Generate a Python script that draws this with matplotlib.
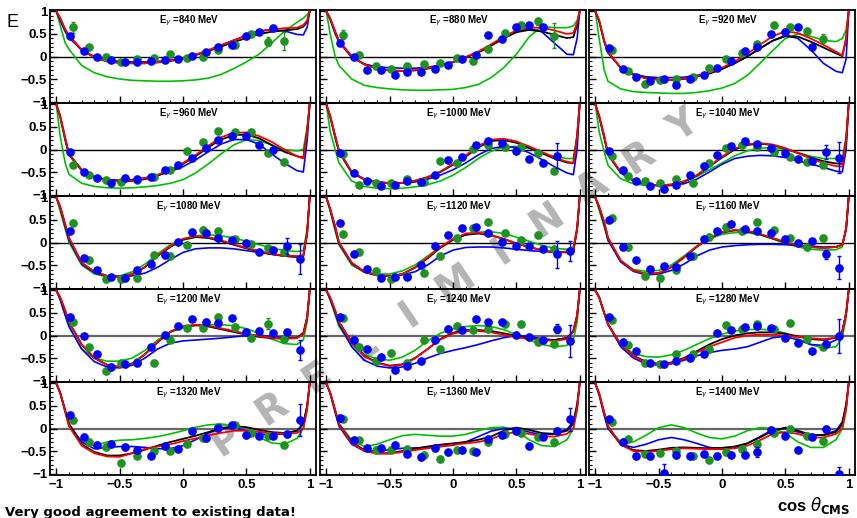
import matplotlib
matplotlib.use("Agg")
import matplotlib.pyplot as plt
from matplotlib.ticker import MultipleLocator
import numpy as np

W, H = 857, 518

energies = [840, 880, 920, 960, 1000, 1040, 1080, 1120, 1160, 1200, 1240, 1280, 1320, 1360, 1400]

# bin centres of the two data sets
blue_x = [-0.89, -0.78, -0.68, -0.57, -0.46, -0.36, -0.25, -0.14, -0.04,
          0.07, 0.18, 0.28, 0.39, 0.5, 0.6, 0.71, 0.82, 0.92]
green_x = [-0.87, -0.74, -0.61, -0.49, -0.36, -0.23, -0.1, 0.03, 0.16,
           0.28, 0.41, 0.54, 0.67, 0.8]
curve_x = [-1, -0.97, -0.93, -0.9, -0.8, -0.7, -0.6, -0.5, -0.4, -0.3, -0.2, -0.1, 0,
           0.1, 0.2, 0.3, 0.4, 0.5, 0.6, 0.7, 0.8, 0.9, 0.95, 0.98, 1]

blue_E = [
    [0.45, 0.13, -0.02, -0.08, -0.13, -0.13, -0.11, -0.08, -0.06, 0.01, 0.09, 0.22, 0.25, 0.45, 0.54, 0.63, None, None],
    [0.31, 0.0, -0.30, -0.31, -0.40, -0.34, -0.34, -0.27, -0.19, -0.06, 0.03, 0.48, 0.39, 0.65, 0.71, 0.66, None, None],
    [0.19, -0.27, -0.45, -0.54, -0.51, -0.64, -0.51, -0.40, -0.25, -0.10, 0.13, 0.22, 0.50, 0.55, 0.65, 0.22, None, None],
    [-0.06, -0.49, -0.63, -0.75, -0.63, -0.66, -0.60, -0.46, -0.34, -0.19, 0.04, 0.20, 0.29, 0.30, 0.09, -0.01, None, None],
    [-0.08, -0.52, -0.71, -0.80, -0.79, -0.71, -0.72, -0.56, -0.24, -0.16, 0.10, 0.19, 0.15, -0.04, -0.20, -0.30, -0.14, None],
    [-0.04, -0.46, -0.70, -0.82, -0.87, -0.79, -0.56, -0.37, -0.13, 0.08, 0.19, 0.13, 0.03, -0.08, -0.21, -0.25, -0.06, -0.18],
    [0.26, -0.35, -0.6, -0.77, -0.79, -0.6, -0.47, -0.27, 0.02, 0.23, 0.2, 0.1, 0.06, 0.0, -0.2, -0.16, -0.08, -0.36],
    [0.43, -0.26, -0.59, -0.78, -0.77, -0.77, -0.49, -0.07, 0.16, 0.33, 0.34, 0.22, 0.02, -0.08, -0.07, -0.15, -0.26, -0.18],
    [0.5, -0.11, -0.39, -0.59, -0.53, -0.55, -0.3, 0.07, 0.25, 0.4, 0.31, 0.25, 0.2, 0.08, -0.01, 0.03, -0.26, -0.56],
    [0.4, -0.01, -0.41, -0.69, -0.64, -0.6, -0.26, 0.02, 0.22, 0.37, 0.31, 0.27, 0.39, 0.08, 0.11, 0.06, 0.07, -0.33],
    [0.4, -0.09, -0.3, -0.48, -0.76, -0.67, -0.56, -0.09, 0.15, 0.13, 0.36, 0.3, 0.3, 0.02, -0.03, -0.1, 0.15, -0.12],
    [0.4, -0.15, -0.34, -0.6, -0.64, -0.57, -0.49, -0.41, 0.05, 0.12, 0.18, 0.2, 0.16, -0.05, -0.16, -0.34, -0.18, -0.01],
    [0.31, -0.18, -0.36, -0.34, -0.41, -0.47, -0.6, -0.39, -0.45, -0.05, -0.21, 0.01, 0.07, -0.15, -0.16, -0.16, -0.13, 0.19],
    [0.24, -0.25, -0.43, -0.44, -0.36, -0.56, -0.63, -0.43, -0.53, -0.48, -0.53, -0.24, -0.15, -0.05, -0.39, -0.18, -0.05, 0.2],
    [0.2, -0.3, -0.62, -0.62, -0.98, -0.59, -0.6, -0.56, -0.6, -0.58, -0.58, -0.52, -0.03, -0.16, -0.47, -0.18, -0.01, -1.0],
]

green_E = [
    [0.65, 0.2, 0.0, -0.12, -0.06, -0.04, 0.05, -0.04, -0.02, 0.15, 0.25, 0.5, 0.33, 0.35],
    [0.48, 0.04, -0.22, -0.28, -0.22, -0.17, -0.15, -0.04, -0.11, 0.16, 0.52, 0.7, 0.78, 0.46],
    [0.15, -0.32, -0.6, -0.53, -0.51, -0.45, -0.26, -0.06, 0.08, 0.28, 0.69, 0.65, 0.56, 0.39],
    [-0.34, -0.57, -0.68, -0.72, -0.68, -0.6, -0.45, -0.04, 0.16, 0.4, 0.39, 0.39, -0.07, -0.27],
    [-0.1, -0.79, -0.74, -0.74, -0.66, -0.72, -0.26, -0.3, 0.02, 0.11, 0.05, 0.06, -0.08, -0.48],
    [-0.14, -0.58, -0.71, -0.74, -0.66, -0.74, -0.3, 0.03, 0.1, 0.06, -0.06, -0.16, -0.28, -0.34],
    [0.43, -0.39, -0.82, -0.82, -0.79, -0.27, -0.3, -0.05, 0.28, 0.26, 0.07, -0.03, -0.13, -0.21],
    [0.18, -0.21, -0.63, -0.82, -0.75, -0.68, -0.3, 0.1, 0.32, 0.46, 0.22, 0.06, 0.17, -0.15],
    [0.54, -0.11, -0.74, -0.79, -0.6, -0.3, 0.12, 0.35, 0.25, 0.45, 0.27, 0.1, -0.11, 0.1],
    [0.31, -0.26, -0.79, -0.6, -0.58, -0.6, -0.1, 0.16, 0.16, 0.42, 0.19, -0.06, 0.26, -0.07],
    [0.39, -0.25, -0.56, -0.39, -0.6, -0.09, -0.3, 0.21, 0.13, 0.15, 0.25, 0.25, -0.15, -0.18],
    [0.35, -0.2, -0.6, -0.64, -0.41, -0.4, -0.3, 0.24, 0.15, 0.25, 0.15, 0.27, -0.07, -0.25],
    [0.18, -0.3, -0.41, -0.77, -0.6, -0.49, -0.49, -0.34, -0.22, 0.03, 0.07, -0.11, -0.16, -0.36],
    [0.2, -0.26, -0.48, -0.48, -0.46, -0.58, -0.68, -0.48, -0.5, -0.3, -0.13, -0.1, -0.18, -0.3],
    [0.15, -0.24, -0.56, -0.55, -0.5, -0.6, -0.7, -0.52, -0.45, -0.34, -0.1, 0.0, -0.16, -0.28],
]

# statistical errors: per-panel default plus the large ones
blue_err = [0.02, 0.02, 0.03, 0.03, 0.03, 0.03, 0.04, 0.04, 0.04, 0.05, 0.05, 0.05, 0.06, 0.06, 0.06]
green_err = [0.05, 0.05, 0.05, 0.05, 0.05, 0.05, 0.06, 0.06, 0.06, 0.06, 0.06, 0.06, 0.06, 0.06, 0.06]
blue_big_err = {(1000, 16): 0.28, (1040, 16): 0.15, (1040, 17): 0.35, (1080, 16): 0.18,
                (1080, 17): 0.33, (1120, 16): 0.3, (1120, 17): 0.22, (1160, 16): 0.1,
                (1160, 17): 0.25, (1200, 17): 0.22, (1240, 16): 0.1, (1240, 17): 0.35,
                (1280, 17): 0.38, (1320, 17): 0.35, (1360, 17): 0.25, (1400, 4): 0.2,
                (1400, 11): 0.12, (1400, 17): 0.15}
green_big_err = {(840, 0): 0.12, (840, 12): 0.1, (840, 13): 0.2, (880, 0): 0.1,
                 (880, 12): 0.08, (880, 13): 0.28, (920, 13): 0.1, (1200, 12): 0.12}

curve_black = [
    [1, 0.85, 0.6, 0.46, 0.15, -0.02, -0.11, -0.14, -0.15, -0.15, -0.13, -0.1, -0.05, 0.03, 0.12, 0.22, 0.32, 0.41, 0.5, 0.55, 0.58, 0.61, 0.66, 0.78, 1],
    [1, 0.85, 0.55, 0.35, 0.0, -0.17, -0.26, -0.31, -0.32, -0.31, -0.27, -0.21, -0.13, -0.02, 0.09, 0.24, 0.4, 0.54, 0.59, 0.56, 0.48, 0.41, 0.43, 0.7, 1],
    [1, 0.8, 0.35, 0.1, -0.25, -0.4, -0.48, -0.51, -0.52, -0.5, -0.45, -0.38, -0.28, -0.15, 0.0, 0.18, 0.35, 0.45, 0.44, 0.33, 0.2, 0.07, 0.01, 0.4, 1],
    [1, 0.75, 0.25, -0.1, -0.45, -0.6, -0.68, -0.71, -0.7, -0.66, -0.58, -0.47, -0.32, -0.15, 0.05, 0.22, 0.32, 0.33, 0.25, 0.1, -0.05, -0.15, -0.18, 0.4, 1],
    [1, 0.75, 0.3, -0.03, -0.5, -0.66, -0.72, -0.75, -0.74, -0.7, -0.62, -0.5, -0.34, -0.16, 0.05, 0.19, 0.21, 0.15, 0.04, -0.08, -0.2, -0.29, -0.3, 0.3, 1],
    [1, 0.75, 0.3, -0.1, -0.5, -0.68, -0.77, -0.8, -0.79, -0.72, -0.58, -0.38, -0.18, 0.0, 0.1, 0.13, 0.1, 0.02, -0.08, -0.18, -0.26, -0.31, -0.32, 0.2, 1],
    [1, 0.8, 0.4, 0.1, -0.45, -0.65, -0.74, -0.76, -0.7, -0.55, -0.3, -0.1, 0.06, 0.12, 0.1, 0.03, -0.05, -0.13, -0.2, -0.26, -0.3, -0.32, -0.3, 0.2, 1],
    [1, 0.75, 0.35, 0.0, -0.45, -0.65, -0.73, -0.75, -0.7, -0.56, -0.35, -0.12, 0.06, 0.17, 0.2, 0.16, 0.08, -0.02, -0.1, -0.17, -0.22, -0.22, -0.2, 0.3, 1],
    [1, 0.8, 0.45, 0.1, -0.4, -0.62, -0.7, -0.68, -0.55, -0.33, -0.1, 0.1, 0.22, 0.27, 0.25, 0.18, 0.09, 0.0, -0.07, -0.1, -0.12, -0.1, -0.05, 0.3, 1],
    [1, 0.85, 0.55, 0.3, -0.2, -0.5, -0.65, -0.7, -0.62, -0.42, -0.15, 0.08, 0.2, 0.23, 0.2, 0.14, 0.08, 0.02, -0.03, -0.06, -0.07, -0.05, 0.05, 0.4, 1],
    [1, 0.85, 0.55, 0.3, -0.15, -0.45, -0.6, -0.67, -0.64, -0.5, -0.3, -0.08, 0.06, 0.12, 0.12, 0.1, 0.05, -0.01, -0.06, -0.1, -0.1, -0.06, 0.1, 0.45, 1],
    [1, 0.85, 0.5, 0.25, -0.2, -0.45, -0.58, -0.63, -0.6, -0.5, -0.35, -0.2, -0.08, 0.0, 0.05, 0.07, 0.07, 0.04, -0.02, -0.08, -0.1, -0.05, 0.1, 0.5, 1],
    [1, 0.8, 0.4, 0.1, -0.35, -0.52, -0.6, -0.6, -0.55, -0.47, -0.38, -0.3, -0.23, -0.16, -0.08, 0.0, 0.05, 0.03, -0.03, -0.08, -0.1, -0.05, 0.1, 0.5, 1],
    [1, 0.8, 0.4, 0.1, -0.3, -0.48, -0.55, -0.55, -0.5, -0.45, -0.4, -0.36, -0.33, -0.3, -0.25, -0.18, -0.05, 0.02, -0.03, -0.1, -0.12, -0.05, 0.1, 0.5, 1],
    [1, 0.78, 0.35, 0.05, -0.35, -0.48, -0.5, -0.47, -0.43, -0.42, -0.43, -0.44, -0.43, -0.4, -0.33, -0.2, -0.05, 0.02, -0.05, -0.14, -0.15, -0.08, 0.1, 0.5, 1],
]

curve_red = [
    [1, 0.85, 0.6, 0.46, 0.15, -0.02, -0.11, -0.14, -0.15, -0.15, -0.13, -0.09, -0.04, 0.04, 0.14, 0.25, 0.36, 0.46, 0.55, 0.6, 0.63, 0.64, 0.7, 0.8, 1],
    [1, 0.85, 0.55, 0.35, 0.0, -0.18, -0.27, -0.31, -0.32, -0.3, -0.26, -0.2, -0.12, -0.01, 0.11, 0.27, 0.44, 0.58, 0.64, 0.64, 0.58, 0.5, 0.52, 0.75, 1],
    [1, 0.8, 0.35, 0.1, -0.25, -0.41, -0.49, -0.52, -0.52, -0.49, -0.44, -0.36, -0.25, -0.11, 0.06, 0.26, 0.45, 0.56, 0.52, 0.4, 0.26, 0.11, 0.02, 0.4, 1],
    [1, 0.75, 0.25, -0.1, -0.46, -0.61, -0.69, -0.71, -0.69, -0.64, -0.56, -0.45, -0.3, -0.12, 0.08, 0.27, 0.37, 0.38, 0.3, 0.17, 0.0, -0.15, -0.2, 0.4, 1],
    [1, 0.75, 0.3, -0.03, -0.5, -0.66, -0.72, -0.75, -0.74, -0.69, -0.61, -0.49, -0.32, -0.13, 0.08, 0.22, 0.24, 0.18, 0.07, -0.05, -0.18, -0.27, -0.3, 0.3, 1],
    [1, 0.75, 0.3, -0.1, -0.5, -0.68, -0.77, -0.8, -0.78, -0.71, -0.57, -0.37, -0.16, 0.02, 0.12, 0.14, 0.11, 0.03, -0.08, -0.2, -0.3, -0.37, -0.38, 0.2, 1],
    [1, 0.8, 0.4, 0.1, -0.45, -0.65, -0.74, -0.76, -0.7, -0.54, -0.29, -0.08, 0.08, 0.14, 0.12, 0.05, -0.04, -0.12, -0.19, -0.25, -0.29, -0.3, -0.28, 0.2, 1],
    [1, 0.75, 0.35, 0.0, -0.45, -0.65, -0.73, -0.75, -0.7, -0.55, -0.33, -0.1, 0.08, 0.2, 0.22, 0.17, 0.08, -0.02, -0.1, -0.17, -0.21, -0.21, -0.18, 0.3, 1],
    [1, 0.8, 0.45, 0.1, -0.4, -0.62, -0.7, -0.68, -0.55, -0.33, -0.09, 0.11, 0.23, 0.28, 0.26, 0.19, 0.1, 0.01, -0.06, -0.1, -0.12, -0.1, -0.05, 0.3, 1],
    [1, 0.85, 0.55, 0.3, -0.2, -0.5, -0.65, -0.7, -0.62, -0.41, -0.14, 0.09, 0.2, 0.24, 0.22, 0.16, 0.1, 0.04, -0.01, -0.05, -0.07, -0.06, 0.03, 0.4, 1],
    [1, 0.85, 0.55, 0.3, -0.16, -0.46, -0.61, -0.68, -0.65, -0.51, -0.3, -0.09, 0.04, 0.1, 0.1, 0.07, 0.02, -0.04, -0.08, -0.1, -0.12, -0.08, 0.08, 0.45, 1],
    [1, 0.85, 0.5, 0.25, -0.2, -0.46, -0.6, -0.65, -0.62, -0.52, -0.38, -0.25, -0.15, -0.05, 0.0, 0.02, 0.02, 0.0, -0.03, -0.06, -0.08, -0.05, 0.08, 0.5, 1],
    [1, 0.8, 0.38, 0.05, -0.38, -0.55, -0.62, -0.63, -0.55, -0.45, -0.4, -0.35, -0.28, -0.22, -0.15, -0.1, -0.05, -0.05, -0.07, -0.1, -0.12, -0.1, 0.0, 0.45, 1],
    [1, 0.8, 0.4, 0.1, -0.32, -0.5, -0.56, -0.56, -0.52, -0.48, -0.44, -0.4, -0.36, -0.33, -0.3, -0.24, -0.12, -0.08, -0.12, -0.17, -0.18, -0.12, 0.0, 0.45, 1],
    [1, 0.78, 0.35, 0.05, -0.36, -0.5, -0.52, -0.5, -0.46, -0.44, -0.45, -0.46, -0.46, -0.44, -0.38, -0.26, -0.12, -0.08, -0.12, -0.2, -0.2, -0.12, 0.0, 0.45, 1],
]

curve_blue = [
    [1, 0.8, 0.55, 0.42, 0.14, 0.0, -0.08, -0.11, -0.12, -0.12, -0.11, -0.08, -0.04, 0.04, 0.14, 0.25, 0.36, 0.47, 0.57, 0.6, 0.57, 0.49, 0.48, 0.65, 1],
    [1, 0.82, 0.5, 0.32, -0.02, -0.17, -0.23, -0.25, -0.26, -0.26, -0.24, -0.19, -0.12, -0.02, 0.1, 0.25, 0.41, 0.55, 0.62, 0.55, 0.3, 0.05, 0.04, 0.4, 1],
    [1, 0.78, 0.32, 0.08, -0.25, -0.39, -0.45, -0.47, -0.47, -0.46, -0.42, -0.36, -0.27, -0.15, 0.0, 0.18, 0.35, 0.47, 0.4, 0.15, -0.15, -0.33, -0.36, -0.05, 1],
    [1, 0.72, 0.2, -0.12, -0.47, -0.61, -0.67, -0.68, -0.67, -0.63, -0.57, -0.49, -0.38, -0.23, -0.05, 0.12, 0.22, 0.22, 0.12, -0.1, -0.3, -0.47, -0.5, 0.2, 1],
    [1, 0.72, 0.25, -0.06, -0.52, -0.67, -0.73, -0.74, -0.74, -0.72, -0.66, -0.57, -0.45, -0.3, -0.12, 0.02, 0.07, 0.04, -0.07, -0.22, -0.38, -0.52, -0.56, 0.0, 1],
    [1, 0.72, 0.25, -0.12, -0.52, -0.7, -0.78, -0.8, -0.8, -0.76, -0.66, -0.5, -0.33, -0.2, -0.15, -0.13, -0.14, -0.18, -0.25, -0.32, -0.4, -0.48, -0.5, 0.0, 1],
    [1, 0.78, 0.35, 0.05, -0.48, -0.67, -0.75, -0.76, -0.74, -0.68, -0.55, -0.38, -0.22, -0.14, -0.12, -0.12, -0.14, -0.18, -0.22, -0.26, -0.3, -0.32, -0.3, 0.2, 1],
    [1, 0.73, 0.3, -0.03, -0.47, -0.66, -0.73, -0.74, -0.72, -0.65, -0.5, -0.3, -0.17, -0.11, -0.1, -0.1, -0.12, -0.15, -0.18, -0.2, -0.21, -0.2, -0.18, 0.3, 1],
    [1, 0.78, 0.4, 0.05, -0.43, -0.64, -0.72, -0.7, -0.62, -0.48, -0.3, -0.17, -0.1, -0.07, -0.05, -0.04, -0.04, -0.05, -0.06, -0.08, -0.1, -0.1, -0.05, 0.3, 1],
    [1, 0.8, 0.45, 0.2, -0.3, -0.58, -0.7, -0.72, -0.66, -0.5, -0.3, -0.17, -0.12, -0.1, -0.08, -0.06, -0.03, 0.0, 0.0, -0.02, -0.05, -0.05, 0.05, 0.4, 1],
    [1, 0.8, 0.5, 0.25, -0.25, -0.55, -0.68, -0.72, -0.7, -0.62, -0.5, -0.4, -0.33, -0.27, -0.2, -0.12, -0.05, 0.0, -0.02, -0.07, -0.1, -0.05, 0.1, 0.45, 1],
    [1, 0.85, 0.5, 0.25, -0.25, -0.5, -0.63, -0.66, -0.63, -0.55, -0.45, -0.38, -0.33, -0.3, -0.25, -0.15, -0.05, -0.02, -0.1, -0.2, -0.22, -0.1, 0.1, 0.5, 1],
    [1, 0.8, 0.4, 0.1, -0.3, -0.45, -0.42, -0.4, -0.4, -0.42, -0.45, -0.45, -0.38, -0.25, -0.1, 0.0, 0.02, -0.05, -0.12, -0.14, -0.12, -0.05, 0.1, 0.5, 1],
    [1, 0.78, 0.35, 0.05, -0.35, -0.5, -0.5, -0.47, -0.44, -0.43, -0.42, -0.4, -0.37, -0.3, -0.18, -0.06, 0.0, 0.0, -0.08, -0.14, -0.12, -0.02, 0.15, 0.55, 1],
    [1, 0.75, 0.3, 0.0, -0.35, -0.42, -0.35, -0.25, -0.2, -0.25, -0.33, -0.42, -0.45, -0.42, -0.33, -0.18, -0.03, 0.0, -0.08, -0.15, -0.14, -0.05, 0.15, 0.55, 1],
]

curve_green = [
    [1, 0.7, 0.3, 0.16, -0.2, -0.36, -0.45, -0.5, -0.53, -0.54, -0.55, -0.55, -0.54, -0.52, -0.48, -0.4, -0.27, -0.12, 0.05, 0.3, 0.56, 0.76, 0.85, 0.93, 1],
    [1, 0.5, 0.0, -0.2, -0.5, -0.64, -0.69, -0.72, -0.74, -0.75, -0.75, -0.74, -0.73, -0.69, -0.62, -0.47, -0.25, 0.05, 0.43, 0.67, 0.64, 0.64, 0.68, 0.8, 1],
    [1, 0.4, -0.3, -0.55, -0.72, -0.78, -0.8, -0.81, -0.82, -0.82, -0.8, -0.76, -0.7, -0.6, -0.42, -0.15, 0.13, 0.4, 0.5, 0.45, 0.36, 0.33, 0.4, 0.6, 1],
    [1, 0.3, -0.3, -0.55, -0.75, -0.82, -0.85, -0.86, -0.85, -0.83, -0.8, -0.75, -0.67, -0.52, -0.32, -0.1, 0.1, 0.22, 0.2, 0.1, 0.0, -0.03, 0.0, 0.5, 1],
    [1, 0.4, 0.0, -0.3, -0.7, -0.82, -0.86, -0.87, -0.86, -0.83, -0.78, -0.7, -0.57, -0.4, -0.2, -0.04, 0.05, 0.07, 0.02, -0.07, -0.15, -0.2, -0.2, 0.3, 1],
    [1, 0.4, -0.05, -0.35, -0.65, -0.76, -0.8, -0.8, -0.77, -0.7, -0.6, -0.45, -0.3, -0.14, -0.03, 0.03, 0.04, 0.0, -0.07, -0.15, -0.2, -0.2, -0.2, 0.3, 1],
    [1, 0.7, 0.3, 0.0, -0.5, -0.7, -0.76, -0.74, -0.65, -0.48, -0.25, -0.05, 0.08, 0.15, 0.17, 0.15, 0.1, 0.03, -0.05, -0.12, -0.18, -0.2, -0.18, 0.3, 1],
    [1, 0.7, 0.25, -0.05, -0.5, -0.66, -0.7, -0.7, -0.63, -0.5, -0.3, -0.1, 0.07, 0.18, 0.23, 0.24, 0.2, 0.12, 0.03, -0.06, -0.13, -0.15, -0.1, 0.35, 1],
    [1, 0.72, 0.35, 0.05, -0.42, -0.6, -0.64, -0.62, -0.5, -0.3, -0.08, 0.08, 0.18, 0.22, 0.22, 0.17, 0.08, -0.02, -0.1, -0.15, -0.17, -0.16, -0.1, 0.35, 1],
    [1, 0.8, 0.45, 0.2, -0.3, -0.5, -0.57, -0.57, -0.5, -0.33, -0.1, 0.08, 0.17, 0.22, 0.24, 0.24, 0.22, 0.15, 0.05, -0.08, -0.18, -0.2, -0.1, 0.3, 1],
    [1, 0.8, 0.45, 0.2, -0.2, -0.42, -0.52, -0.55, -0.48, -0.33, -0.12, 0.05, 0.15, 0.2, 0.22, 0.2, 0.13, 0.02, -0.1, -0.2, -0.25, -0.22, -0.1, 0.3, 1],
    [1, 0.85, 0.5, 0.25, -0.2, -0.4, -0.47, -0.48, -0.43, -0.33, -0.2, -0.07, 0.03, 0.1, 0.13, 0.14, 0.12, 0.05, -0.07, -0.2, -0.28, -0.25, -0.05, 0.4, 1],
    [1, 0.78, 0.35, 0.05, -0.3, -0.38, -0.3, -0.26, -0.25, -0.22, -0.18, -0.12, -0.05, 0.03, 0.08, 0.1, 0.05, -0.05, -0.2, -0.32, -0.35, -0.22, 0.0, 0.4, 1],
    [1, 0.8, 0.4, 0.1, -0.25, -0.4, -0.35, -0.25, -0.16, -0.13, -0.15, -0.17, -0.17, -0.13, -0.05, 0.02, 0.03, -0.05, -0.25, -0.38, -0.4, -0.25, 0.0, 0.4, 1],
    [1, 0.75, 0.3, 0.0, -0.3, -0.3, -0.15, 0.02, 0.08, 0.02, -0.1, -0.2, -0.23, -0.17, -0.05, 0.02, 0.0, -0.1, -0.3, -0.42, -0.42, -0.25, 0.0, 0.4, 1],
]

TICK_FONT = "Liberation Sans"
COL_X0 = [50, 320, 589]
PANEL_W = 266
ROW_Y0 = 10
ROW_PITCH = 93
PANEL_H = 93


def to_array(values):
    return np.array([np.nan if v is None else v for v in values], dtype=float)


def plot_panel(ax, i, row, col):
    energy = energies[i]
    ax.set_facecolor("none")
    ax.set_xlim(-1.05, 1.05)
    ax.set_ylim(-1.033, 1.033)

    zero_color = "black" if row < 3 else "#666666"
    zero_lw = 1.0 if row < 3 else 1.6
    ax.axhline(0, color=zero_color, lw=zero_lw, zorder=1)

    ax.plot(curve_x, curve_green[i], color="#00c000", lw=1.2, zorder=2)
    ax.plot(curve_x, curve_blue[i], color="#0000ff", lw=1.2, zorder=3)
    ax.plot(curve_x, curve_black[i], color="black", lw=1.3, zorder=4)
    ax.plot(curve_x, curve_red[i], color="#ff0000", lw=1.3, zorder=5)

    gy = to_array(green_E[i])
    gerr = np.array([green_big_err.get((energy, k), green_err[i]) for k in range(len(gy))])
    ax.errorbar(green_x, gy, yerr=gerr, fmt="o", color="#1f931f", ms=5.2,
                elinewidth=1.0, capsize=1.5, zorder=6)

    by = to_array(blue_E[i])
    berr = np.array([blue_big_err.get((energy, k), blue_err[i]) for k in range(len(by))])
    ax.errorbar(blue_x, by, yerr=berr, fmt="o", color="#0000ff", ms=5.2,
                elinewidth=1.0, capsize=1.5, zorder=7)

    ax.text(0.05, 0.8, r"E$_{\gamma}$ =%d MeV" % energy, ha="center", va="center",
            fontsize=7, fontweight="bold", family=TICK_FONT, zorder=8)

    ax.set_xticks([-1, -0.5, 0, 0.5, 1])
    ax.set_yticks([-1, -0.5, 0, 0.5, 1])
    ax.xaxis.set_minor_locator(MultipleLocator(0.1))
    ax.yaxis.set_minor_locator(MultipleLocator(0.1))
    ax.tick_params(which="both", direction="in", top=False, right=False)
    ax.tick_params(which="major", length=5, width=1)
    ax.tick_params(which="minor", length=2.5, width=0.8)
    for spine in ax.spines.values():
        spine.set_linewidth(1.3)

    labels = ["\u22121", "\u22120.5", "0", "0.5", "1"]
    if col == 0:
        ax.set_yticklabels(labels, fontsize=9.5, fontweight="bold", family=TICK_FONT)
    else:
        ax.set_yticklabels([])
    if row == 4:
        ax.set_xticklabels(labels, fontsize=9.5, fontweight="bold", family=TICK_FONT)
    else:
        ax.set_xticklabels([])
    ax.tick_params(axis="y", pad=2)
    ax.tick_params(axis="x", pad=3)


def main():
    fig = plt.figure(figsize=(W / 100, H / 100), dpi=100)

    for i in range(len(energies)):
        row, col = divmod(i, 3)
        top = ROW_Y0 + ROW_PITCH * row
        ax = fig.add_axes([COL_X0[col] / W, 1 - (top + PANEL_H) / H,
                           PANEL_W / W, PANEL_H / H])
        plot_panel(ax, i, row, col)

    # watermark, behind the panels
    p0 = np.array([226.0, 440.0])
    p1 = np.array([684.0, 126.0])
    word = "PRELIMINARY"
    for k, letter in enumerate(word):
        px, py = p0 + (p1 - p0) * k / (len(word) - 1)
        fig.text(px / W, 1 - py / H, letter, fontsize=28, fontweight="bold",
                 family="DejaVu Sans", color="#b4b4b4", rotation=34,
                 ha="center", va="center", zorder=-1)

    fig.text(7 / W, 1 - 27 / H, "E", fontsize=13, family=TICK_FONT)
    fig.text(850 / W, 1 - 511 / H, r"cos $\theta_{\mathbf{CMS}}$", fontsize=12,
             fontweight="bold", family=TICK_FONT, ha="right", va="baseline")
    fig.text(5 / W, 1 - 516 / H, "Very good agreement to existing data!",
             fontsize=9.5, fontweight="bold", family="DejaVu Sans",
             ha="left", va="baseline")

    fig.savefig("out.png", dpi=100)


if __name__ == "__main__":
    main()
